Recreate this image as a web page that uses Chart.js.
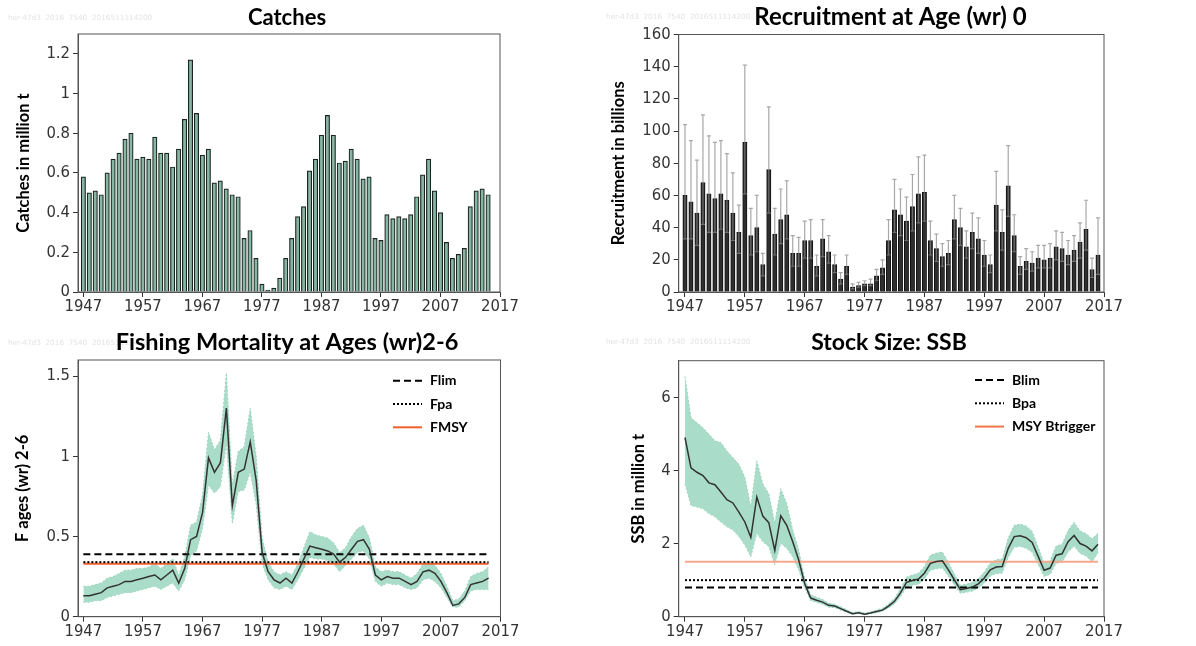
<!DOCTYPE html>
<html>
<head>
<meta charset="utf-8">
<script src="https://cdn.jsdelivr.net/npm/chart.js@4.4.1/dist/chart.umd.min.js"></script>
<style>
  html, body { margin: 0; padding: 0; background: #fff; }
  #wrap { position: relative; width: 1196px; height: 646px; overflow: hidden; }
  .panel { position: absolute; width: 598px; height: 323px; }
</style>
</head>
<body>
<div id="wrap">
  <div class="panel" style="left:0;top:0"><canvas id="catchChart" width="598" height="323"></canvas></div>
  <div class="panel" style="left:598px;top:0"><canvas id="recChart" width="598" height="323"></canvas></div>
  <div class="panel" style="left:0;top:323px"><canvas id="fChart" width="598" height="323"></canvas></div>
  <div class="panel" style="left:598px;top:323px"><canvas id="ssbChart" width="598" height="323"></canvas></div>
</div>
<script>
// ---- data ----
const yearTicks = [1947, 1957, 1967, 1977, 1987, 1997, 2007, 2017];

const catchTicks = [0, 0.2, 0.4, 0.6, 0.8, 1, 1.2];
const catches = [0.58, 0.50, 0.51, 0.49, 0.60, 0.67, 0.70, 0.77, 0.80, 0.67,
  0.68, 0.67, 0.78, 0.70, 0.70, 0.63, 0.72, 0.87, 1.17, 0.90,
  0.69, 0.72, 0.55, 0.56, 0.52, 0.49, 0.48, 0.27, 0.31, 0.17,
  0.04, 0.01, 0.02, 0.07, 0.17, 0.27, 0.38, 0.43, 0.61, 0.67,
  0.79, 0.89, 0.79, 0.65, 0.66, 0.72, 0.67, 0.57, 0.58, 0.27,
  0.26, 0.39, 0.37, 0.38, 0.37, 0.39, 0.48, 0.59, 0.67, 0.51,
  0.40, 0.25, 0.17, 0.19, 0.22, 0.43, 0.51, 0.52, 0.49];

const recTicks = [0, 20, 40, 60, 80, 100, 120, 140, 160];
const recruits = [60, 56, 49, 68, 61, 58, 61, 57, 49, 37,
  93, 35, 40, 17, 76, 36, 45, 48, 24, 24,
  32, 32, 16, 33, 25, 17, 8, 16, 3, 4,
  5, 5, 10, 15, 32, 51, 48, 44, 53, 61,
  62, 32, 27, 22, 24, 45, 40, 28, 37, 33,
  23, 17, 54, 37, 66, 35, 16, 19, 18, 21,
  20, 21, 28, 27, 23, 26, 31, 39, 14, 23];
const recHigh = [104, 94, 82, 110, 97, 93, 94, 86, 74, 54,
  141, 52, 60, 24, 115, 52, 64, 69, 35, 34,
  44, 45, 23, 45, 35, 23, 12, 23, 5, 6,
  7, 8, 14, 20, 45, 70, 64, 59, 73, 84,
  85, 44, 36, 30, 32, 60, 52, 38, 49, 46,
  32, 23, 75, 51, 91, 48, 22, 27, 25, 29,
  29, 30, 38, 37, 32, 35, 43, 57, 21, 46];
const recLow = [33, 33, 29, 42, 37, 37, 39, 37, 32, 24,
  61, 23, 25, 10, 49, 23, 30, 33, 16, 16,
  21, 21, 10, 22, 18, 12, 5, 11, 2, 3,
  4, 4, 7, 11, 23, 37, 35, 32, 38, 43,
  44, 23, 19, 16, 17, 33, 29, 21, 27, 24,
  16, 12, 38, 26, 47, 25, 11, 14, 13, 15,
  15, 15, 20, 19, 17, 19, 21, 26, 9, 11];

const fTicks = [0, 0.5, 1, 1.5];
const fBar = [0.13, 0.13, 0.14, 0.15, 0.18, 0.19, 0.20, 0.22, 0.22, 0.23,
  0.24, 0.25, 0.26, 0.23, 0.26, 0.29, 0.21, 0.30, 0.48, 0.50,
  0.65, 0.99, 0.90, 0.96, 1.30, 0.69, 0.90, 0.92, 1.09, 0.85,
  0.40, 0.28, 0.23, 0.21, 0.24, 0.21, 0.28, 0.36, 0.44, 0.43,
  0.42, 0.41, 0.39, 0.34, 0.37, 0.42, 0.47, 0.48, 0.42, 0.26,
  0.23, 0.25, 0.24, 0.24, 0.22, 0.20, 0.22, 0.28, 0.29, 0.27,
  0.22, 0.15, 0.07, 0.08, 0.12, 0.20, 0.21, 0.22, 0.24];
const fHigh = [0.19, 0.19, 0.20, 0.21, 0.24, 0.25, 0.27, 0.29, 0.29, 0.30,
  0.30, 0.31, 0.33, 0.30, 0.33, 0.36, 0.26, 0.37, 0.57, 0.59,
  0.76, 1.15, 1.04, 1.10, 1.52, 0.82, 1.03, 1.06, 1.30, 1.00,
  0.49, 0.34, 0.28, 0.26, 0.28, 0.26, 0.33, 0.43, 0.53, 0.51,
  0.50, 0.49, 0.46, 0.40, 0.43, 0.50, 0.55, 0.57, 0.49, 0.31,
  0.28, 0.29, 0.28, 0.28, 0.26, 0.24, 0.27, 0.33, 0.35, 0.32,
  0.27, 0.19, 0.10, 0.11, 0.16, 0.25, 0.27, 0.28, 0.31];
const fLow = [0.09, 0.09, 0.10, 0.10, 0.12, 0.13, 0.14, 0.15, 0.15, 0.16,
  0.17, 0.18, 0.19, 0.17, 0.19, 0.21, 0.16, 0.23, 0.38, 0.41,
  0.55, 0.82, 0.77, 0.81, 1.08, 0.58, 0.78, 0.79, 0.90, 0.70,
  0.33, 0.23, 0.18, 0.17, 0.19, 0.17, 0.23, 0.30, 0.37, 0.36,
  0.36, 0.35, 0.33, 0.28, 0.32, 0.36, 0.40, 0.41, 0.36, 0.22,
  0.19, 0.21, 0.20, 0.20, 0.18, 0.17, 0.18, 0.23, 0.24, 0.22,
  0.18, 0.12, 0.06, 0.06, 0.10, 0.16, 0.17, 0.17, 0.17];
const fRefs = { Flim: 0.39, Fpa: 0.34, FMSY: 0.33 };

const ssbTicks = [0, 2, 4, 6];
const ssb = [4.90, 4.07, 3.95, 3.86, 3.66, 3.61, 3.41, 3.20, 3.11, 2.86,
  2.59, 2.17, 3.27, 2.75, 2.57, 1.81, 2.76, 2.50, 2.05, 1.55,
  0.90, 0.51, 0.45, 0.40, 0.31, 0.29, 0.22, 0.15, 0.08, 0.11,
  0.07, 0.10, 0.14, 0.18, 0.29, 0.42, 0.65, 0.94, 0.99, 1.03,
  1.19, 1.46, 1.51, 1.53, 1.28, 1.01, 0.74, 0.77, 0.81, 0.90,
  1.06, 1.28, 1.36, 1.37, 1.87, 2.19, 2.21, 2.16, 2.03, 1.65,
  1.27, 1.33, 1.68, 1.72, 2.05, 2.22, 2.00, 1.93, 1.80, 1.98];
const ssbHigh = [6.57, 5.44, 5.30, 5.17, 4.99, 4.81, 4.76, 4.53, 4.35, 4.17,
  3.81, 3.00, 4.26, 3.63, 3.36, 2.55, 3.50, 3.09, 2.37, 1.82,
  1.05, 0.60, 0.53, 0.47, 0.37, 0.34, 0.27, 0.19, 0.11, 0.14,
  0.10, 0.13, 0.18, 0.23, 0.35, 0.50, 0.76, 1.08, 1.14, 1.19,
  1.37, 1.68, 1.74, 1.77, 1.48, 1.17, 0.86, 0.89, 0.94, 1.04,
  1.22, 1.47, 1.56, 1.58, 2.15, 2.50, 2.53, 2.48, 2.33, 1.90,
  1.46, 1.53, 1.93, 1.98, 2.36, 2.58, 2.34, 2.27, 2.13, 2.28];
const ssbLow = [3.63, 3.04, 3.00, 2.95, 2.82, 2.73, 2.59, 2.46, 2.37, 2.19,
  1.96, 1.64, 2.28, 2.05, 1.92, 1.42, 2.01, 1.87, 1.64, 1.28,
  0.79, 0.44, 0.39, 0.34, 0.26, 0.25, 0.18, 0.12, 0.06, 0.09,
  0.05, 0.08, 0.11, 0.15, 0.24, 0.35, 0.55, 0.81, 0.86, 0.89,
  1.03, 1.27, 1.31, 1.33, 1.11, 0.87, 0.64, 0.67, 0.70, 0.78,
  0.92, 1.11, 1.18, 1.19, 1.62, 1.90, 1.92, 1.87, 1.76, 1.43,
  1.10, 1.16, 1.46, 1.49, 1.77, 1.93, 1.73, 1.66, 1.50, 1.75];
const ssbRefs = { Blim: 0.8, Bpa: 1.0, 'MSY Btrigger': 1.5 };

const watermark = 'her-47d3  2016  7540  2016511114200';

// years for each series
const yearsFrom = (n) => Array.from({ length: n }, (_, i) => 1947 + i);
const catchYears = yearsFrom(catches.length);
const recYears = yearsFrom(recruits.length);
const fYears = yearsFrom(fBar.length);
const ssbYears = yearsFrom(ssb.length);

const pts = (xs, ys) => xs.map((x, i) => ({ x, y: ys[i] }));

// ---- plugins ----
const tickFont = { family: '"Liberation Sans Narrow", "Arial Narrow", "DejaVu Sans Condensed", sans-serif', size: 16.5 };
const boldFont = 'Lato, "Open Sans", sans-serif';

const panelText = {
  id: 'panelText',
  afterDraw(chart, args, opts) {
    const { ctx, chartArea: a } = chart;
    ctx.save();
    ctx.strokeStyle = '#555';
    ctx.lineWidth = 1;
    ctx.strokeRect(a.left, a.top, a.right - a.left, a.bottom - a.top);
    ctx.textBaseline = 'middle';
    ctx.fillStyle = '#e3e3e3';
    ctx.font = '7.3px "DejaVu Sans"';
    ctx.fillText(watermark, 8, opts.titleY);
    ctx.fillStyle = '#000';
    ctx.font = 'bold ' + (opts.size || 22) + 'px ' + boldFont;
    ctx.textAlign = 'center';
    ctx.fillText(opts.title, opts.titleX, opts.titleY);
    ctx.restore();
  }
};

const refLegend = {
  id: 'refLegend',
  afterDraw(chart, args, opts) {
    if (opts.x === undefined) return;
    const ctx = chart.ctx;
    chart.data.datasets.filter(d => d.inLegend).forEach((d, i) => {
      const y = opts.y + i * 23.3;
      ctx.save();
      ctx.strokeStyle = d.legendColor || d.borderColor;
      ctx.lineWidth = 2;
      ctx.setLineDash(d.borderDash || []);
      ctx.beginPath();
      ctx.moveTo(opts.x, y);
      ctx.lineTo(opts.x + 29, y);
      ctx.stroke();
      ctx.setLineDash([]);
      ctx.fillStyle = '#000';
      ctx.font = 'bold 14px ' + boldFont;
      ctx.textBaseline = 'middle';
      ctx.fillText(d.label, opts.x + 37, y);
      ctx.restore();
    });
  }
};

const errorBars = {
  id: 'errorBars',
  afterDatasetsDraw(chart, args, opts) {
    if (!opts.high) return;
    const xs = chart.scales.x, ys = chart.scales.y, ctx = chart.ctx;
    ctx.save();
    ctx.lineWidth = 1.2;
    recYears.forEach((yr, i) => {
      const px = xs.getPixelForValue(yr);
      const pu = ys.getPixelForValue(opts.high[i]);
      const pm = ys.getPixelForValue(recruits[i]);
      const pl = ys.getPixelForValue(opts.low[i]);
      // part above the bar
      ctx.strokeStyle = '#a8a8a8';
      ctx.beginPath();
      ctx.moveTo(px, pm); ctx.lineTo(px, pu);
      ctx.moveTo(px - 2, pu); ctx.lineTo(px + 2, pu);
      ctx.stroke();
      // part inside the bar
      ctx.strokeStyle = '#6e6e6e';
      ctx.beginPath();
      ctx.moveTo(px, pl); ctx.lineTo(px, pm);
      ctx.moveTo(px - 2, pl); ctx.lineTo(px + 2, pl);
      ctx.stroke();
    });
    ctx.restore();
  }
};

Chart.register(panelText, refLegend, errorBars);

// ---- axes ----
function xAxis(min, max, h) {
  return {
    type: 'linear', min, max, offset: false,
    afterBuildTicks: s => { s.ticks = yearTicks.map(v => ({ value: v })); },
    afterFit: s => { s.height = h; },
    grid: { drawOnChartArea: false, drawTicks: true, tickLength: 5, color: '#333', offset: false },
    border: { display: true, color: '#555' },
    ticks: { color: '#333', font: tickFont, padding: 0, maxRotation: 0, autoSkip: false, callback: v => String(v) }
  };
}

function yAxis(max, tickVals, w, title, titlePad) {
  return {
    type: 'linear', min: 0, max,
    afterBuildTicks: s => { s.ticks = tickVals.map(v => ({ value: v })); },
    afterFit: s => { s.width = w; },
    grid: { drawOnChartArea: false, drawTicks: true, tickLength: 5, color: '#333' },
    border: { display: true, color: '#555' },
    ticks: { color: '#333', font: tickFont, padding: 3, callback: v => String(v) },
    title: { display: true, text: title, color: '#000', font: { family: boldFont, size: 16.5, weight: 'bold' }, padding: { top: titlePad, bottom: 0 } }
  };
}

function baseOptions(box, xMin, yMax, yTicks, yTitle, titlePad, text) {
  return {
    responsive: false,
    animation: false,
    layout: { padding: { left: 0, top: box.top, right: 598 - box.right, bottom: 0 } },
    scales: {
      x: xAxis(xMin, 2017, 323 - box.bottom),
      y: yAxis(yMax, yTicks, box.left, yTitle, titlePad)
    },
    plugins: {
      legend: { display: false },
      tooltip: { enabled: false },
      panelText: text
    }
  };
}

// ---- Catches ----
new Chart(document.getElementById('catchChart'), {
  type: 'bar',
  data: {
    datasets: [{
      data: pts(catchYears, catches),
      backgroundColor: '#86b7a4',
      borderColor: '#1c2421',
      borderWidth: 1.2,
      barThickness: 4.4
    }]
  },
  options: baseOptions({ left: 78, right: 500, top: 34, bottom: 292 }, 1946.1, 1.3, catchTicks,
    'Catches in million t', 14, { title: 'Catches', titleX: 287, titleY: 18, size: 22 })
});

// ---- Recruitment ----
const recOpts = baseOptions({ left: 80.7, right: 506, top: 34.5, bottom: 292 }, 1945.95, 160, recTicks,
  'Recruitment in billions', 11, { title: 'Recruitment at Age (wr) 0', titleX: 292.5, titleY: 17, size: 24 });
recOpts.plugins.errorBars = { high: recHigh, low: recLow };
new Chart(document.getElementById('recChart'), {
  type: 'bar',
  data: {
    datasets: [{
      data: pts(recYears, recruits),
      backgroundColor: '#2e2e2e',
      borderColor: '#111',
      borderWidth: 1,
      barThickness: 4.3
    }]
  },
  options: recOpts
});

// ---- line + band panels ----
function refSet(label, y, years, style) {
  const last = years[years.length - 1];
  return Object.assign({
    label, inLegend: true,
    data: [{ x: years[0], y }, { x: last, y }],
    pointRadius: 0, fill: false, borderWidth: 2
  }, style);
}

function bandDatasets(years, mid, high, low, refs) {
  return [
    { data: pts(years, mid), borderColor: '#333', borderWidth: 1.5, pointRadius: 0, fill: false },
    ...refs,
    { data: pts(years, high), borderColor: '#9ad2be', borderWidth: 1, borderDash: [2, 2], pointRadius: 0,
      backgroundColor: '#a9dcc9', fill: '+1' },
    { data: pts(years, low), borderColor: '#9ad2be', borderWidth: 1, borderDash: [2, 2], pointRadius: 0, fill: false }
  ];
}

const fOpts = baseOptions({ left: 78, right: 500.5, top: 37, bottom: 293.7 }, 1946.1, 1.6, fTicks,
  'F ages (wr) 2-6', 13, { title: 'Fishing Mortality at Ages (wr)2-6', titleX: 287, titleY: 19.7, size: 23.5 });
fOpts.plugins.refLegend = { x: 393, y: 57.7 };
new Chart(document.getElementById('fChart'), {
  type: 'line',
  data: {
    datasets: bandDatasets(fYears, fBar, fHigh, fLow, [
      refSet('Flim', fRefs.Flim, fYears, { borderColor: '#000', borderDash: [7, 4] }),
      refSet('Fpa', fRefs.Fpa, fYears, { borderColor: '#000', borderDash: [2, 2] }),
      refSet('FMSY', fRefs.FMSY, fYears, { borderColor: '#f0602e', borderWidth: 1.8 })
    ])
  },
  options: fOpts
});

const ssbOpts = baseOptions({ left: 80.7, right: 506, top: 37.7, bottom: 293.7 }, 1945.95, 7, ssbTicks,
  'SSB in million t', 31, { title: 'Stock Size: SSB', titleX: 291, titleY: 19.5, size: 23 });
ssbOpts.plugins.refLegend = { x: 377, y: 57 };
new Chart(document.getElementById('ssbChart'), {
  type: 'line',
  data: {
    datasets: bandDatasets(ssbYears, ssb, ssbHigh, ssbLow, [
      refSet('Blim', ssbRefs.Blim, ssbYears, { borderColor: '#000', borderDash: [7, 4] }),
      refSet('Bpa', ssbRefs.Bpa, ssbYears, { borderColor: '#000', borderDash: [2, 2] }),
      refSet('MSY Btrigger', ssbRefs['MSY Btrigger'], ssbYears, { borderColor: '#f7a78b', legendColor: '#f4774a' })
    ])
  },
  options: ssbOpts
});
</script>
</body>
</html>
